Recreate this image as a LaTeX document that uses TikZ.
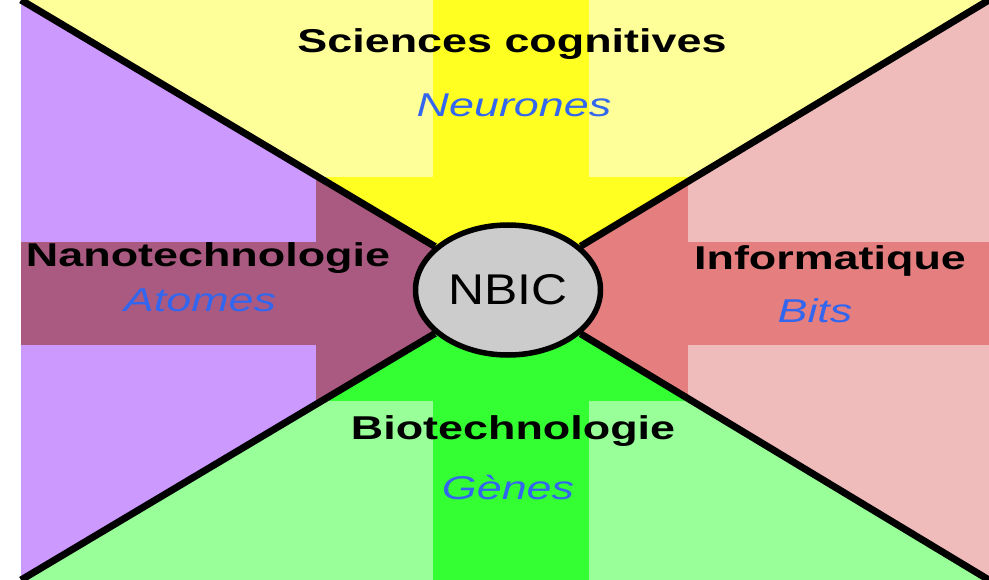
\documentclass[tikz,border=0pt]{standalone}
\usepackage{fontspec}
\setmainfont{Liberation Sans}
\usepackage{graphicx}
\usetikzlibrary{shapes.geometric}
\definecolor{cogLight}{HTML}{FFFF99}
\definecolor{cogStrong}{HTML}{FFFF22}
\definecolor{nanoLight}{HTML}{CC99FF}
\definecolor{nanoStrong}{HTML}{AA5A80}
\definecolor{infoLight}{HTML}{F0BBBB}
\definecolor{infoStrong}{HTML}{E57F7F}
\definecolor{bioLight}{HTML}{99FF99}
\definecolor{bioStrong}{HTML}{33FF33}
\definecolor{hubGray}{HTML}{CCCCCC}
\definecolor{unitBlue}{HTML}{3366EE}
\newcommand{\stretchx}[2][1.36]{\scalebox{#1}[1]{#2}}
\tikzset{
  % Titres et unites
  field/.style={font=\bfseries\fontsize{33}{33}\selectfont, anchor=base, inner sep=0pt},
  unit/.style={font=\itshape\fontsize{33}{33}\selectfont, text=unitBlue, anchor=base, inner sep=0pt},
  % Disque central et separations
  hub/.style={ellipse, draw=black, line width=5.5pt, fill=hubGray, minimum width=185, minimum height=130,
              inner sep=0pt, font=\fontsize{43}{43}\selectfont},
  sector line/.style={line width=7pt, black}
}

\begin{document}
\begin{tikzpicture}[x=1pt, y=-1pt]
    \useasboundingbox (0,0) rectangle (989,580);
    \coordinate (TL) at (21,0);
    \coordinate (TR) at (989,0);
    \coordinate (BL) at (21,580);
    \coordinate (BR) at (989,580);
    \coordinate (C)  at (508,290);
    % Secteur haut
    \begin{scope}
      \clip (TL) -- (TR) -- (C) -- cycle;
      \fill[cogLight] (0,0) rectangle (989,580);
      \fill[cogStrong] (433,0) rectangle (589,580);
      \fill[cogStrong] (316,177) rectangle (688,401);
    \end{scope}
    % Secteur gauche
    \begin{scope}
      \clip (TL) -- (C) -- (BL) -- cycle;
      \fill[nanoLight] (0,0) rectangle (989,580);
      \fill[nanoStrong] (0,242) rectangle (989,345);
      \fill[nanoStrong] (316,177) rectangle (688,401);
    \end{scope}
    % Secteur droit
    \begin{scope}
      \clip (TR) -- (BR) -- (C) -- cycle;
      \fill[infoLight] (0,0) rectangle (989,580);
      \fill[infoStrong] (0,242) rectangle (989,345);
      \fill[infoStrong] (316,177) rectangle (688,401);
    \end{scope}
    % Secteur bas
    \begin{scope}
      \clip (BL) -- (C) -- (BR) -- cycle;
      \fill[bioLight] (0,0) rectangle (989,580);
      \fill[bioStrong] (433,0) rectangle (589,580);
      \fill[bioStrong] (316,177) rectangle (688,401);
    \end{scope}
    \node[hub] (NBIC) at (508,290) {\stretchx[1.16]{NBIC}};
    \draw[sector line] (TL) -- (NBIC);
    \draw[sector line] (TR) -- (NBIC);
    \draw[sector line] (BL) -- (NBIC);
    \draw[sector line] (BR) -- (NBIC);
    \node[field] (Cog)   at (512,53)  {\stretchx{Sciences cognitives}};
    \node[unit]  (CogU)  at (514,117) {\stretchx{Neurones}};
    \node[field] (Nano)  at (208,267) {\stretchx{Nanotechnologie}};
    \node[unit]  (NanoU) at (200,312) {\stretchx{Atomes}};
    \node[field] (Info)  at (830,270) {\stretchx{Informatique}};
    \node[unit]  (InfoU) at (815,323) {\stretchx{Bits}};
    \node[field] (Bio)   at (513,439) {\stretchx{Biotechnologie}};
    \node[unit]  (BioU)  at (508,499) {\stretchx{Gènes}};
\end{tikzpicture}
\end{document}
